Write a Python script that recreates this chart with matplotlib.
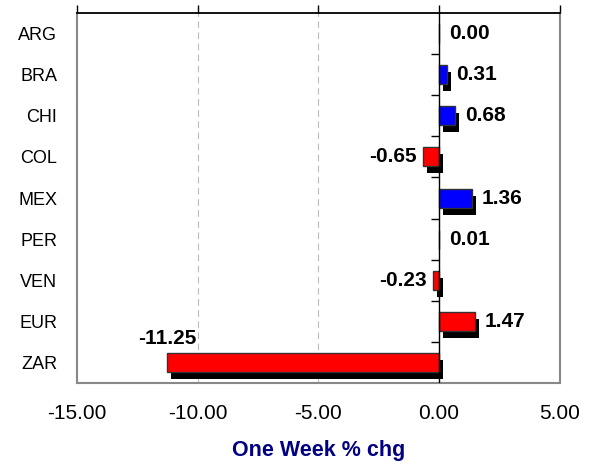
import matplotlib
matplotlib.use("Agg")
import matplotlib.pyplot as plt
import matplotlib.transforms as mtransforms

# data
categories = ["ARG", "BRA", "CHI", "COL", "MEX", "PER", "VEN", "EUR", "ZAR"]
values = [0.00, 0.31, 0.68, -0.65, 1.36, 0.01, -0.23, 1.47, -11.25]
bar_colors = ["#0000FF", "#0000FF", "#0000FF", "#FF0000", "#0000FF",
              "#0000FF", "#FF0000", "#FF0000", "#FF0000"]
xticks = [-15, -10, -5, 0, 5]

plt.rcParams["font.family"] = ["Liberation Sans", "DejaVu Sans"]

fig = plt.figure(figsize=(6.0, 4.66), dpi=100)
ax = fig.add_axes([0.128, 0.178, 0.805, 0.794])

ypos = list(range(len(categories)))
bar_h = 0.46

# shadow, shifted a few pixels right and down
shadow_tr = mtransforms.offset_copy(ax.transData, fig=fig, x=4, y=-7, units="dots")
ax.barh(ypos, values, height=bar_h, color="black", transform=shadow_tr, zorder=2)
ax.barh(ypos, values, height=bar_h, color=bar_colors, edgecolor="#333333",
        linewidth=1.0, zorder=3)

# zero line with left-pointing ticks between categories
ax.axvline(0, color="black", linewidth=1.0, zorder=4)
bounds = [y + 0.5 for y in ypos[:-1]]
ax.plot([0] * len(bounds), bounds, linestyle="none", marker=0, markersize=6,
        color="black", markeredgewidth=1.0, zorder=4)

# value labels
for y, v in zip(ypos, values):
    txt = f"{v:.2f}"
    if v <= -5:
        ax.annotate(txt, (v, y), xytext=(0, 14), textcoords="offset pixels",
                    ha="center", va="bottom", fontsize=15, fontweight="bold", zorder=5)
    elif v < 0:
        ax.annotate(txt, (v, y), xytext=(-7, 0), textcoords="offset pixels",
                    ha="right", va="center", fontsize=15, fontweight="bold", zorder=5)
    else:
        ax.annotate(txt, (v, y), xytext=(10, 0), textcoords="offset pixels",
                    ha="left", va="center", fontsize=15, fontweight="bold", zorder=5)

ax.set_xlim(-15, 5)
ax.set_ylim(len(categories) - 0.5, -0.5)
ax.set_xticks(xticks)
ax.set_xticklabels([f"{t:.2f}" for t in xticks], fontsize=15)
ax.set_yticks(ypos)
ax.set_yticklabels(categories, fontsize=13)

ax.tick_params(axis="x", top=True, bottom=False, labeltop=False, labelbottom=True,
               direction="out", length=6, width=1, color="black", pad=9)
ax.tick_params(axis="y", length=0, pad=14)

ax.grid(axis="x", color="#BBBBBB", linestyle=(0, (6, 4)), linewidth=0.8, zorder=0)
ax.set_axisbelow(True)

for side in ["left", "right", "bottom"]:
    ax.spines[side].set_color("#888888")
    ax.spines[side].set_linewidth(1.5)
ax.spines["top"].set_color("black")
ax.spines["top"].set_linewidth(1.3)

ax.set_xlabel("One Week % chg", fontsize=15.5, fontweight="bold", color="#000080",
              labelpad=12)

fig.savefig("out.png", dpi=100)
